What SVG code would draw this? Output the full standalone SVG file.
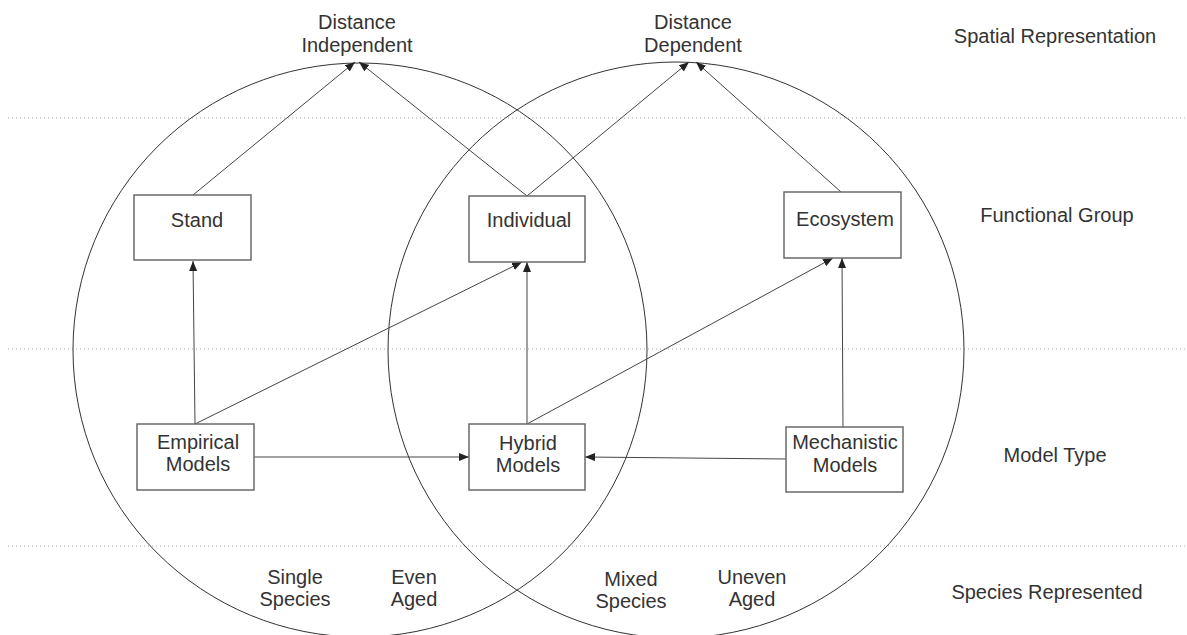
<svg xmlns="http://www.w3.org/2000/svg" width="1187" height="635" viewBox="0 0 1187 635">
<style>
text{font-family:"Liberation Sans",Arial,sans-serif;font-size:20px;fill:#333;text-anchor:middle}
.box{fill:#fff;stroke:#6a6a6a;stroke-width:1.5}
.dot{stroke:#aaa;stroke-width:1;stroke-dasharray:1 3}
.circ{fill:none;stroke:#333;stroke-width:1}
.edge{fill:none;stroke:#444;stroke-width:1}
</style>
<defs>
<marker id="ah" markerUnits="userSpaceOnUse" markerWidth="11" markerHeight="9" refX="10" refY="4" orient="auto">
<path d="M0,0 L10,4 L0,8 z" fill="#222"/>
</marker>
</defs>
<rect width="1187" height="635" fill="#fff"/>
<g id="guides">
<line class="dot" x1="8" y1="118" x2="1187" y2="118"/>
<line class="dot" x1="8" y1="349" x2="1187" y2="349"/>
<line class="dot" x1="8" y1="546" x2="1187" y2="546"/>
</g>
<g id="circles">
<circle class="circ" cx="360" cy="350" r="287"/>
<circle class="circ" cx="676" cy="350" r="288"/>
</g>
<g id="connectors">
<line class="edge" x1="193" y1="195" x2="355" y2="62" marker-end="url(#ah)"/>
<line class="edge" x1="527" y1="196" x2="359" y2="62" marker-end="url(#ah)"/>
<line class="edge" x1="527" y1="196" x2="689" y2="62" marker-end="url(#ah)"/>
<line class="edge" x1="841" y1="192" x2="696" y2="62" marker-end="url(#ah)"/>
<line class="edge" x1="195" y1="424" x2="193" y2="261" marker-end="url(#ah)"/>
<line class="edge" x1="195" y1="424" x2="522" y2="262" marker-end="url(#ah)"/>
<line class="edge" x1="527" y1="424" x2="527" y2="262" marker-end="url(#ah)"/>
<line class="edge" x1="527" y1="424" x2="833" y2="258" marker-end="url(#ah)"/>
<line class="edge" x1="843" y1="427" x2="842" y2="258" marker-end="url(#ah)"/>
<line class="edge" x1="254" y1="457" x2="469" y2="457" marker-end="url(#ah)"/>
<line class="edge" x1="786" y1="459" x2="585" y2="457" marker-end="url(#ah)"/>
</g>
<g id="distance-independent">
<text x="357" y="29">Distance</text>
<text x="357" y="52">Independent</text>
</g>
<g id="distance-dependent">
<text x="693" y="29">Distance</text>
<text x="693" y="52">Dependent</text>
</g>
<g id="stand">
<rect class="box" x="134" y="195" width="117" height="65"/>
<text x="197" y="227">Stand</text>
</g>
<g id="individual">
<rect class="box" x="469" y="196" width="116" height="66"/>
<text x="529" y="227">Individual</text>
</g>
<g id="ecosystem">
<rect class="box" x="784" y="192" width="117" height="66"/>
<text x="845" y="226">Ecosystem</text>
</g>
<g id="empirical">
<rect class="box" x="137" y="424" width="117" height="66"/>
<text x="198" y="449">Empirical</text>
<text x="198" y="471">Models</text>
</g>
<g id="hybrid">
<rect class="box" x="469" y="424" width="116" height="66"/>
<text x="528" y="450">Hybrid</text>
<text x="528" y="472">Models</text>
</g>
<g id="mechanistic">
<rect class="box" x="786" y="427" width="117" height="65"/>
<text x="845" y="449">Mechanistic</text>
<text x="845" y="472">Models</text>
</g>
<g id="row-labels">
<text x="1055" y="43">Spatial Representation</text>
<text x="1057" y="222">Functional Group</text>
<text x="1055" y="462">Model Type</text>
<text x="1047" y="599">Species Represented</text>
</g>
<g id="species-labels">
<text x="295" y="584">Single</text>
<text x="295" y="606">Species</text>
<text x="414" y="584">Even</text>
<text x="414" y="606">Aged</text>
<text x="631" y="586">Mixed</text>
<text x="631" y="608">Species</text>
<text x="752" y="584">Uneven</text>
<text x="752" y="606">Aged</text>
</g>
</svg>
